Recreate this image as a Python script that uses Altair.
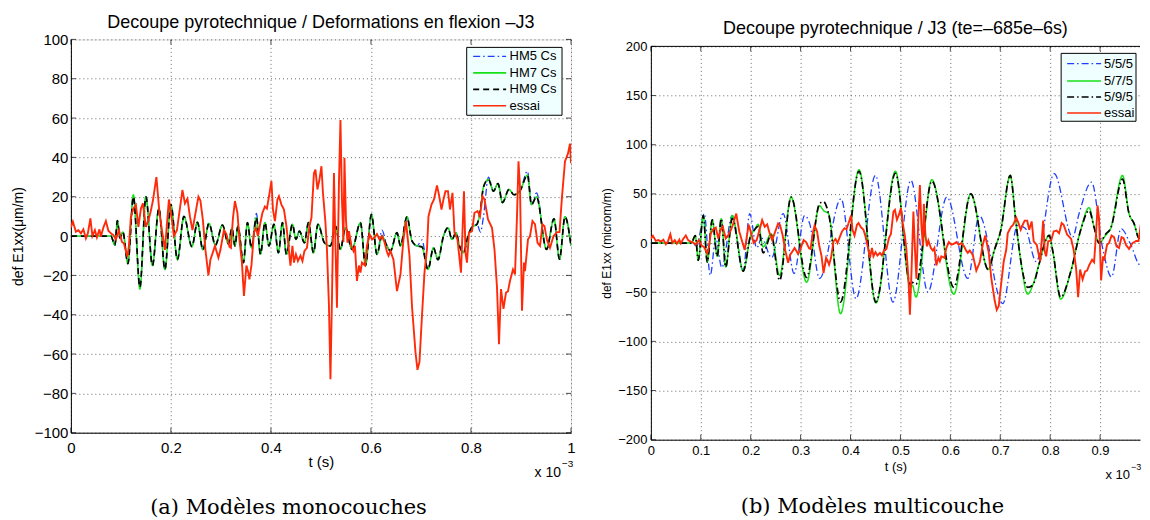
import altair as alt
import pandas as pd

FONT = "Liberation Sans"

# ---------------- data (t in units of 1e-3 s) ----------------
left_model_t = [0, 0.080, 0.088, 0.093, 0.098, 0.104, 0.114, 0.125, 0.138, 0.150,
                0.163, 0.176, 0.188, 0.200, 0.213, 0.226, 0.242, 0.253, 0.264, 0.276,
                0.289, 0.303, 0.315, 0.322, 0.328, 0.334, 0.345, 0.353, 0.361, 0.371,
                0.379, 0.388, 0.396, 0.406, 0.415, 0.423, 0.431, 0.443, 0.450, 0.457,
                0.467, 0.475, 0.485, 0.494, 0.507, 0.519, 0.529, 0.539, 0.549, 0.562,
                0.579, 0.589, 0.601, 0.612, 0.622, 0.632, 0.639, 0.652, 0.659, 0.672,
                0.682, 0.692, 0.702, 0.714, 0.725, 0.734, 0.745, 0.754, 0.762, 0.770,
                0.777, 0.785, 0.794, 0.801, 0.812, 0.819, 0.825, 0.835, 0.845, 0.854,
                0.863, 0.876, 0.886, 0.898, 0.913, 0.921, 0.931, 0.951, 0.966, 0.977,
                0.988, 1.0]
left_hm9_v = [0, 0, -4.6, 7.8, -1, 2, -14, 20, -26, 20,
              -15, 14, -17, 16, -12, 10, -5.4, 7, -7, 6.4,
              -4.6, 5.6, -4, 4, -5, 5, -13.5, 6.8, -6, 9.3,
              -9.3, 6.8, -5, 6, -8.5, 6.8, -9.3, 6, -1.7, 2.5,
              -3.4, 6.8, -8.5, 6, -3.4, -5, 5, -6.8, 4.2, -6.8,
              6.8, -15, 11, -9.3, 0, -5, -7.6, 1.7, -5, 9.8,
              -2.5, -5, -5.5, -17, -6, -12, 0, 4.2, -1.7, 1.7,
              -5, -8.5, 0, 4.2, 6, 13.5, 25, 28.8, 22.8, 26.7,
              17, 23.7, 21, 23, 31, 16, 20, -6.8, 8.8, -11.8,
              9.8, -5]
left_hm7_v = [0, 0, -4.6, 7.8, -1, 2, -14, 21, -27, 20,
              -15, 14, -17, 16, -12, 10, -5.4, 7, -7, 6.4,
              -4.6, 5.6, -4, 4, -5, 5, -13.5, 6.8, -6, 9.3,
              -9.3, 6.8, -5, 6, -8.5, 6.8, -9.3, 6, -1.7, 2.5,
              -3.4, 6.8, -8.5, 6, -3.4, -5, 5, -6.8, 4.2, -6.8,
              6.8, -15, 11, -9.3, 0, -5, -7.6, 1.7, -5, 9.8,
              -2.5, -5, -5.5, -17, -6, -12, 0, 4.2, -1.7, 1.7,
              -5, -8.5, 0, 4.2, 6, 13.5, 25, 28.8, 22.8, 26.7,
              17, 23.7, 21, 23, 31, 16, 20, -6.8, 8.8, -11.8,
              9.8, -5]
left_hm5_v = [0, 0, -4.6, 7.8, -1, 2, -14, 20, -26, 20,
              -15, 14, -17, 16, -12, 10, -5.4, 7, -7, 6.4,
              -4.6, 5.6, -4, 4, -5, 5, -13.5, 6.8, -6, 11.5,
              -9.3, 6.8, -5, 6, -8.5, 6.8, -9.3, 6, -1.7, 2.5,
              -3.4, 6.8, -8.5, 6, -3.4, -5, 5, -6.8, 4.2, -6.8,
              6.8, -15, 11, -9.3, 3, -5, -7.6, 1.7, -5, 9.8,
              -2.5, -5, -2, -17, -6, -12, 0, 4.2, -1.7, 1.7,
              -5, -8.5, 0, 4.2, 6, 2, 10, 30, 22.8, 26.7,
              17, 23.7, 21, 23, 33, 16, 22, -6.8, 8.8, -11.8,
              9.8, -5]

essai_t = [0.000, 0.004, 0.010, 0.015, 0.020, 0.025, 0.030, 0.034, 0.039, 0.043,
           0.048, 0.052, 0.057, 0.060, 0.065, 0.070, 0.075, 0.080, 0.085, 0.090,
           0.096, 0.102, 0.106, 0.113, 0.116, 0.120, 0.125, 0.130, 0.135, 0.140,
           0.144, 0.150, 0.155, 0.160, 0.164, 0.171, 0.177, 0.183, 0.188, 0.196,
           0.201, 0.206, 0.212, 0.218, 0.223, 0.228, 0.233, 0.238, 0.243, 0.248,
           0.255, 0.259, 0.264, 0.269, 0.275, 0.279, 0.283, 0.288, 0.295, 0.299,
           0.306, 0.311, 0.317, 0.320, 0.324, 0.328, 0.333, 0.337, 0.342, 0.346,
           0.351, 0.354, 0.357, 0.361, 0.366, 0.370, 0.374, 0.379, 0.383, 0.388,
           0.392, 0.396, 0.401, 0.404, 0.408, 0.413, 0.416, 0.421, 0.426, 0.431,
           0.435, 0.439, 0.443, 0.446, 0.450, 0.454, 0.459, 0.463, 0.467, 0.472,
           0.477, 0.481, 0.486, 0.489, 0.493, 0.497, 0.501, 0.504, 0.509, 0.512,
           0.516, 0.519, 0.522, 0.526, 0.529, 0.532, 0.536, 0.539, 0.542, 0.545,
           0.547, 0.550, 0.553, 0.556, 0.561, 0.565, 0.568, 0.572, 0.576, 0.579,
           0.582, 0.588, 0.592, 0.597, 0.602, 0.607, 0.612, 0.617, 0.622, 0.627,
           0.632, 0.635, 0.639, 0.645, 0.652, 0.659, 0.665, 0.670, 0.677, 0.682,
           0.689, 0.693, 0.697, 0.702, 0.707, 0.712, 0.715, 0.721, 0.726, 0.732,
           0.736, 0.741, 0.745, 0.749, 0.754, 0.758, 0.763, 0.767, 0.773, 0.780,
           0.786, 0.789, 0.792, 0.796, 0.802, 0.807, 0.813, 0.818, 0.823, 0.827,
           0.834, 0.842, 0.847, 0.852, 0.856, 0.860, 0.865, 0.870, 0.874, 0.878,
           0.884, 0.888, 0.892, 0.895, 0.898, 0.902, 0.906, 0.908, 0.914, 0.918,
           0.923, 0.928, 0.933, 0.938, 0.943, 0.947, 0.952, 0.958, 0.965, 0.972,
           0.977, 0.982, 0.988, 0.994, 0.998, 1.000]
essai_v = [4.4, 7.3, 2.2, 3.0, 1.4, 3.4, -1.2, 1.5, 9.0, 0.0,
           3.0, -0.7, 3.4, -0.3, 4.4, 7.6, 2.7, 1.4, 0.5, -1.7,
           3.0, -2.9, -3.7, -10.5, -5.0, 9.8, 14.0, 15.8, 4.7, 14.0,
           16.6, 4.7, 8.0, 13.0, 18.0, 30.0, 12.0, 1.4, -7.0, 18.6,
           10.0, 0.0, 3.0, 14.0, 23.4, 16.6, 19.0, 10.0, 3.0, 10.0,
           20.0, 18.0, 8.0, -7.0, -20.0, -12.0, -9.0, -5.0, -11.0, -7.0,
           3.0, 1.0, -5.4, -6.0, 9.0, 17.8, 11.8, -1.7, -13.5, -30.5,
           -15.0, -17.8, -22.0, -15.0, 1.7, 4.2, 0.0, 6.8, 11.8, 15.0,
           14.0, 20.0, 28.0, 13.5, 7.6, 18.6, 20.3, 16.0, 13.5, 5.0,
           -5.0, -15.0, -5.0, -13.5, -9.3, -12.7, -10.0, -12.7, -7.6, -6.0,
           5.0, 9.3, 32.0, 33.8, 23.7, 28.8, 35.5, 22.0, 6.8, -6.8,
           -35.5, -72.8, -32.0, 32.0, -5.0, -36.4, 27.0, 59.0, 18.6, -3.0,
           39.8, 8.5, -3.4, 2.5, -5.0, -7.6, -5.0, -22.8, -15.0, -18.6,
           -13.5, -15.0, -5.0, 1.0, -1.7, -0.8, 1.0, -1.7, 0.0, -3.0,
           -8.0, -10.0, -7.6, -12.0, -28.0, -19.5, -1.7, 7.6, -10.0, -35.5,
           -59.0, -68.0, -64.0, -40.6, -18.6, -6.8, 10.0, 16.0, 18.6, 25.7,
           21.0, 13.5, 18.6, 22.8, 22.8, 13.5, 22.0, 1.7, -1.7, -18.6,
           22.8, -8.5, -13.5, 1.7, 2.5, 11.8, 12.7, 10.0, 20.3, 18.6,
           8.5, 4.2, -6.8, -26.0, -55.0, -27.0, -37.0, -28.8, -28.0, -22.8,
           -17.0, -19.5, 10.0, 38.0, 25.0, -38.0, -13.5, -17.8, -1.7, 0.0,
           7.6, 6.0, -3.4, -5.0, 6.0, 5.0, -2.0, -6.0, 0.0, 2.0,
           2.0, 20.0, 38.0, 42.0, 47.0, 37.0]

right_model_t = [0, 0.081, 0.089, 0.095, 0.105, 0.113, 0.123, 0.133, 0.141, 0.150,
                 0.163, 0.185, 0.200, 0.207, 0.215, 0.225, 0.241, 0.258, 0.281, 0.312,
                 0.338, 0.346, 0.356, 0.380, 0.417, 0.451, 0.490, 0.520, 0.524, 0.531,
                 0.563, 0.607, 0.641, 0.676, 0.688, 0.701, 0.720, 0.731, 0.741, 0.755,
                 0.765, 0.778, 0.791, 0.798, 0.805, 0.821, 0.841, 0.861, 0.878, 0.888,
                 0.898, 0.911, 0.921, 0.945, 0.958, 0.968, 0.978, 0.990, 1.0]
right_575_v = [0, 0, 7.5, -17.6, 28, -19.3, 23.7, -13.5, 24.7, -24.4,
               28, -28.5, 7.8, 12.9, 19, -4, 9.5, -33, 46.7, -40,
               38, 33, 29.8, -71.8, 74.5, -61, 73, -45, -43, -55,
               64.4, -52, 50, -27, -7.5, 12.9, 68.8, 23, -17.6, -52,
               -43, -21, 2.7, 7.8, -7.5, -57, -29.5, 12.9, 36, 16,
               0, 7.8, 14.6, 68.8, 30, 20, 5, 10, 15]
right_595_v = [0, 0, 7.5, -17.6, 28, -19.3, 23.7, -13.5, 24.7, -24.4,
               25, -28.5, 7.8, 12.9, 17, -10, 8, -38, 46.7, -35,
               40, 42, 30, -60, 73, -60, 71, -42, -40, -42,
               63, -45, 50, -27, -7.5, 12.9, 68.8, 23, -17.6, -45,
               -43, -21, 2.7, 7.8, -7.5, -55, -29.5, 12.9, 33, 16,
               0, 9, 14.6, 65, 30, 20, 5, 10, 15]
right_555_t = [0, 0.082, 0.092, 0.107, 0.119, 0.130, 0.142, 0.163, 0.185, 0.198,
               0.212, 0.222, 0.242, 0.265, 0.287, 0.308, 0.318, 0.338, 0.381, 0.411,
               0.450, 0.485, 0.521, 0.555, 0.593, 0.635, 0.658, 0.705, 0.735, 0.750,
               0.772, 0.808, 0.845, 0.858, 0.883, 0.905, 0.923, 0.942, 0.960, 0.981,
               1.0]
right_555_v = [0, 0, -3, 30, -33, 5, -25, 28, -28, 30,
               -5, 5, -15, 30, -31, 28, 20, -36, 45, -56.6,
               68.8, -60, 63.7, -49.8, 46.7, -36, 28, -61.6, 18, 15,
               -19, 70.5, 6, 30, 62, -5, -34.5, 14.6, 0, -22.7,
               5]

left_names = ["HM5 Cs", "HM7 Cs", "HM9 Cs", "essai"]
right_names = ["5/5/5", "5/7/5", "5/9/5", "essai"]
colors = ["#1f3fff", "#18e018", "#000000", "#ff2a0a"]
left_dashes = [[7, 3, 1.5, 3], [1, 0], [6, 4], [1, 0]]
right_dashes = [[7, 3, 1.5, 3], [1, 0], [7, 3, 1.5, 3], [1, 0]]
widths = [1.3, 1.9, 1.9, 1.6]

left_xticks = [0, 0.2, 0.4, 0.6, 0.8, 1]
left_yticks = list(range(-100, 101, 20))
right_xticks = [0, 0.1, 0.2, 0.3, 0.4, 0.5, 0.6, 0.7, 0.8, 0.9]
right_yticks = list(range(-200, 201, 50))


def series_df(name, ts, vs):
    return pd.DataFrame({"t": ts, "v": vs, "s": [name] * len(ts)})


def text_layer(label, x, y, size, align="center", font=FONT):
    return alt.Chart(pd.DataFrame({"lab": [label]})).mark_text(
        font=font, fontSize=size, align=align, baseline="middle", color="black"
    ).encode(text="lab:N", x=alt.value(x), y=alt.value(y))


def legend_layers(names, dashes, bx, by, bw, bh, rows, sx0, sx1, lx):
    one = pd.DataFrame({"a": [0]})
    out = [alt.Chart(one).mark_rect(fill="#efffff", stroke="black", strokeWidth=1).encode(
        x=alt.value(bx), x2=alt.value(bx + bw), y=alt.value(by), y2=alt.value(by + bh))]
    for name, col, dash, w, ry in zip(names, colors, dashes, widths, rows):
        out.append(alt.Chart(one).mark_rule(color=col, strokeDash=dash,
                                            strokeWidth=min(w, 1.7)).encode(
            x=alt.value(sx0), x2=alt.value(sx1), y=alt.value(ry)))
        out.append(text_layer(name, lx, ry, 13, "left"))
    return out


def panel(series, names, dashes, xdom, xvals, ydom, yvals, title, ytitle, W, H,
          fs, title_off, lab_pad, tit_pad, ylab_pad, ytit_pad, right_ticks, extra):
    x = alt.X("t:Q", scale=alt.Scale(domain=xdom, nice=False, zero=False),
              axis=alt.Axis(values=xvals, format="~g", title="t (s)", grid=True,
                            gridDash=[1, 3], gridColor="#555", gridWidth=0.9,
                            ticks=False, domain=True, domainColor="black",
                            labelFont=FONT, labelFontSize=fs, labelColor="black",
                            labelPadding=lab_pad, labelFlush=False, labelOverlap=False,
                            titleFont=FONT, titleFontSize=fs, titleFontWeight="normal",
                            titleColor="black", titlePadding=tit_pad))
    y = alt.Y("v:Q", scale=alt.Scale(domain=ydom, nice=False),
              axis=alt.Axis(values=yvals, title=ytitle, grid=True,
                            gridDash=[1, 3], gridColor="#555", gridWidth=0.9,
                            ticks=False, domain=True, domainColor="black",
                            labelFont=FONT, labelFontSize=fs, labelColor="black",
                            labelPadding=ylab_pad, labelFlush=False,
                            titleFont=FONT, titleFontSize=fs - 1, titleFontWeight="normal",
                            titleColor="black", titlePadding=ytit_pad))
    color = alt.Color("s:N", scale=alt.Scale(domain=names, range=colors), legend=None)
    dash = alt.StrokeDash("s:N", scale=alt.Scale(domain=names, range=dashes), legend=None)
    sw = alt.StrokeWidth("s:N", scale=alt.Scale(domain=names, range=widths), legend=None)
    layers = []
    # inward tick marks (MATLAB style), placed through the scales
    xt = pd.DataFrame({"t": xvals})
    yt = pd.DataFrame({"v": yvals})
    for ypos in (H - 2.5, 2.5):
        layers.append(alt.Chart(xt).mark_tick(color="black", thickness=1, size=5,
                                              orient="vertical").encode(
            x=x, y=alt.value(ypos)))
    xposes = (2.5, W - 2.5) if right_ticks else (2.5,)
    for xpos in xposes:
        layers.append(alt.Chart(yt).mark_tick(color="black", thickness=1, size=5,
                                              orient="horizontal").encode(
            y=y, x=alt.value(xpos)))
    for name, ts, vs, interp in series:
        layers.append(alt.Chart(series_df(name, ts, vs)).mark_line(
            interpolate=interp, clip=True).encode(
            x=x, y=y, color=color, strokeDash=dash, strokeWidth=sw))
    layers += extra
    return alt.layer(*layers).properties(
        width=W, height=H,
        title=alt.TitleParams(title, font=FONT, fontSize=18, fontWeight="normal",
                              color="black", offset=title_off, anchor="middle"))


LW, LH = 501, 394
left = panel(
    [("HM5 Cs", left_model_t, left_hm5_v, "monotone"),
     ("HM7 Cs", left_model_t, left_hm7_v, "monotone"),
     ("HM9 Cs", left_model_t, left_hm9_v, "monotone"),
     ("essai", essai_t, essai_v, "linear")],
    left_names, left_dashes, [0, 1], left_xticks, [-100, 100], left_yticks,
    "Decoupe pyrotechnique / Deformations en flexion \u2013J3", "def E1xx(\u03bcm/m)",
    LW, LH, 15, 0, 8, -1, 3, 9, True,
    legend_layers(left_names, left_dashes, 396.5, 8, 95.5, 68,
                  [17, 33.5, 50, 66.5], 403, 436, 439.5)
    + [text_layer("x 10", 491, 434, 14, "right"),
       text_layer("\u22123", 492, 425, 10, "left"),
       text_layer("(a)  Mod\u00e8les monocouches", 218, 469, 21, "center", "DejaVu Serif")])

RW, RH = 490, 394
right = panel(
    [("5/5/5", right_555_t, right_555_v, "monotone"),
     ("5/7/5", right_model_t, right_575_v, "monotone"),
     ("5/9/5", right_model_t, right_595_v, "monotone"),
     ("essai", essai_t, essai_v, "linear")],
    right_names, right_dashes, [0, 0.98], right_xticks, [-200, 200], right_yticks,
    "Decoupe pyrotechnique / J3 (te=\u2013685e\u20136s)", "def E1xx (microm/m)",
    RW, RH, 13, 2, 4.5, 3, 4, 4.5, False,
    legend_layers(right_names, right_dashes, 411, 7, 75, 68,
                  [17.3, 34.7, 50.7, 66.7], 417, 451, 454)
    + [text_layer("x 10", 480, 429, 13, "right"),
       text_layer("\u22123", 481, 421, 9, "left"),
       text_layer("(b)  Mod\u00e8les multicouche", 222, 461, 21, "center", "DejaVu Serif"),
       alt.Chart(pd.DataFrame({"a": [0]})).mark_rule(color="black", strokeWidth=1).encode(
           x=alt.value(0), x2=alt.value(RW), y=alt.value(0))]
).properties(view=alt.ViewBackground(strokeOpacity=0))

spacer = alt.Chart(pd.DataFrame({"a": [0]})).mark_point(opacity=0).encode(
    x=alt.value(0), y=alt.value(0)
).properties(width=10, height=7, view=alt.ViewBackground(strokeOpacity=0))

right_col = alt.vconcat(spacer, right, spacing=0, bounds="flush")

chart = alt.hconcat(left, right_col, spacing=80, bounds="flush").resolve_scale(
    color="independent", strokeDash="independent", strokeWidth="independent"
).properties(
    padding={"left": 2, "top": 5, "right": 0, "bottom": 0}
).configure_view(stroke="black", strokeWidth=1).configure(font=FONT)

chart.save("out.html", embed_options={"renderer": "svg", "actions": False})
